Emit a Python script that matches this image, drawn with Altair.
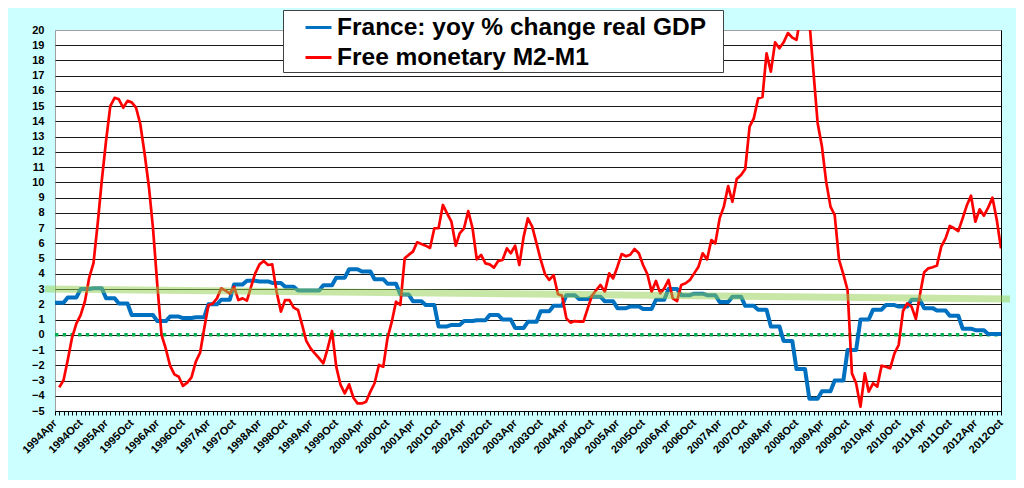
import altair as alt
import pandas as pd

# ---------------- data ----------------
month_dates = [d.strftime("%Y-%m-%d") for d in pd.date_range("1994-04-01", "2012-10-01", freq="MS")]

series_names = ["France: yoy % change real GDP", "Free monetary M2-M1"]
series_colors = ["#0070c0", "#ff0000"]

# quarterly real GDP yoy % (1994Q2 .. 2012Q4), each quarter spans 3 months on the chart
gdp_yoy_quarterly = [
    2.1, 2.45, 3.0, 3.05, 2.4, 2.05, 1.3, 1.3, 0.9, 1.2,
    1.1, 1.15, 2.0, 2.3, 3.3, 3.55, 3.5, 3.4, 3.15, 2.9,
    2.9, 3.25, 3.75, 4.3, 4.15, 3.65, 3.35, 2.65, 2.2, 1.95,
    0.55, 0.65, 0.9, 0.95, 1.3, 1.0, 0.45, 0.85, 1.55, 1.9,
    2.6, 2.35, 2.5, 2.2, 1.75, 1.85, 1.7, 2.3, 3.0, 2.6,
    2.7, 2.6, 2.15, 2.5, 1.9, 1.65, 0.55, -0.4, -2.25, -4.2,
    -3.7, -3.0, -1.0, 1.0, 1.65, 1.95, 1.85, 2.3, 1.75, 1.6,
    1.25, 0.4, 0.3, 0.05, 0.05,
]

# monthly free monetary M2-M1, from 1994 May to 2012 Oct
free_m2_m1 = [
    -3.45, -2.98, -1.66, -0.18, 0.75, 1.29, 2.2, 3.73, 4.7, 7.4,
    10.1, 12.75, 15.0, 15.55, 15.45, 14.9, 15.35, 15.25, 14.9, 13.85,
    11.9, 9.7, 7.0, 3.26, 0.0, -0.93, -2.02, -2.6, -2.75, -3.35,
    -3.14, -2.79, -1.76, -1.16, 0.36, 1.96, 2.04, 2.39, 3.05, 2.9,
    2.7, 3.15, 2.28, 2.39, 2.24, 3.2, 4.03, 4.62, 4.84, 4.58,
    4.62, 2.83, 1.52, 2.28, 2.28, 1.78, 1.63, 0.6, -0.4, -0.89,
    -1.22, -1.54, -1.87, -0.89, 0.25, -2.09, -3.29, -3.84, -3.25, -4.13,
    -4.5, -4.5, -4.39, -3.73, -3.18, -1.98, -2.09, -0.23, 0.86, 2.17,
    1.96, 5.02, 5.24, 5.46, 6.07, 5.96, 5.85, 5.7, 6.99, 6.99,
    8.52, 7.97, 7.42, 5.85, 6.66, 6.99, 8.12, 6.99, 4.95, 5.24,
    4.69, 4.62, 4.41, 4.84, 4.91, 5.67, 5.35, 5.85, 4.58, 6.44,
    7.64, 7.1, 6.0, 4.91, 3.97, 3.6, 3.92, 2.66, 2.57, 1.08,
    0.8, 0.9, 0.86, 0.86, 1.74, 2.57, 2.94, 3.27, 2.83, 4.03,
    3.7, 4.47, 5.3, 5.15, 5.25, 5.63, 5.35, 4.58, 3.97, 2.83,
    3.53, 2.72, 3.05, 3.6, 2.39, 2.22, 3.27, 3.38, 3.6, 4.03,
    4.47, 5.35, 4.95, 6.22, 6.0, 7.64, 8.41, 9.76, 8.73, 10.22,
    10.49, 10.88, 13.66, 14.2, 15.5, 15.6, 18.47, 17.27, 19.19, 18.8,
    19.19, 19.8, 19.5, 19.35, 21.0, 21.8, 20.6, 17.05, 13.9, 12.35,
    10.05, 8.41, 7.86, 4.91, 3.97, 2.94, -2.53, -3.18, -4.72, -2.53,
    -3.73, -3.18, -3.4, -2.03, -2.09, -2.2, -1.22, -0.67, 1.56, 2.06,
    1.85, 1.04, 2.6, 4.1, 4.36, 4.43, 4.54, 5.78, 6.33, 7.14,
    6.99, 6.81, 7.64, 8.52, 9.13, 7.42, 8.23, 7.82, 8.34, 9.0,
    7.53, 5.67,
]

trend_dates = ["1994-01-21", "2012-12-04"]
trend_values = [3.0, 2.35]
zero_dates = ["1994-04-01", "2012-10-01"]
zero_values = [0, 0]
y_ticks = list(range(-5, 21))

rows = []
for i, d in enumerate(month_dates):
    rows.append({"date": d, "series": series_names[0], "value": gdp_yoy_quarterly[i // 3]})
for d, v in zip(month_dates[1:], free_m2_m1):
    rows.append({"date": d, "series": series_names[1], "value": v})
df = pd.DataFrame(rows)
trend_df = pd.DataFrame({"date": trend_dates, "value": trend_values})
zero_df = pd.DataFrame({"date": zero_dates, "value": zero_values})


def utc_ms(s):
    return int(pd.Timestamp(s, tz="UTC").value // 10**6)


FONT = "Liberation Sans"

x_scale = alt.Scale(type="utc", domain=[utc_ms(month_dates[0]), utc_ms(month_dates[-1])])
x_axis = alt.Axis(
    values=[utc_ms(d) for d in month_dates],
    labelExpr="(utcmonth(datum.value) == 3 || utcmonth(datum.value) == 9) ? utcFormat(datum.value, '%Y%b') : ''",
    labelAngle=-45, labelAlign="right", labelBaseline="middle", labelPadding=6,
    labelOverlap=False, labelFlush=False, tickSize=4, tickColor="black", tickWidth=1,
    domainColor="black", domainWidth=1, grid=False,
    labelFont=FONT, labelFontSize=11, labelFontWeight="bold", labelColor="black", title=None,
)
x_enc = alt.X("date:T", scale=x_scale, axis=x_axis)

y_scale = alt.Scale(domain=[-5, 20], nice=False, zero=False)
y_axis_left = alt.Axis(
    values=y_ticks, grid=True,
    gridColor={"condition": {"test": "datum.value == 20", "value": "#a0a0a0"}, "value": "#1a1a1a"},
    gridWidth=1, domain=False, ticks=False, labelPadding=11,
    labelFont=FONT, labelFontSize=11, labelFontWeight="bold", labelColor="black", title=None,
)
y_axis_right = alt.Axis(orient="right", values=y_ticks, grid=False, labels=False, ticks=False,
                        domain=True, domainColor="black", domainWidth=1, title=None)

color_scale = alt.Scale(domain=series_names, range=series_colors)
legend = alt.Legend(
    title="\u00a0", titleOrient="right", titlePadding=14, titleFontSize=6,
    orient="none", legendX=228, legendY=-20,
    fillColor="white", strokeColor="#404040", padding=3,
    symbolType="stroke", symbolSize=676, symbolStrokeWidth=3, symbolOffset=18,
    labelOffset=4, rowPadding=4, labelLimit=600,
    labelFont=FONT, labelFontSize=24.5, labelFontWeight="bold", labelColor="black",
)

zero = alt.Chart(zero_df).mark_line(
    color="#00b050", strokeWidth=3.5, strokeDash=[3.4, 4.3], strokeCap="butt"
).encode(x=x_enc, y=alt.Y("value:Q", scale=y_scale, axis=y_axis_right))

blue = alt.Chart(df).transform_filter(alt.datum.series == series_names[0]).mark_line(
    strokeWidth=4, clip=True, strokeJoin="round"
).encode(
    x=x_enc,
    y=alt.Y("value:Q", scale=y_scale, axis=y_axis_left),
    color=alt.Color("series:N", scale=color_scale, legend=legend),
)

red = alt.Chart(df).transform_filter(alt.datum.series == series_names[1]).mark_line(
    strokeWidth=2.7, clip=True, strokeJoin="round"
).encode(
    x=x_enc,
    y=alt.Y("value:Q", scale=y_scale, axis=None),
    color=alt.Color("series:N", scale=color_scale, legend=legend),
)

trend = alt.Chart(trend_df).mark_line(
    color="#92d050", opacity=0.5, strokeWidth=7, clip=False, strokeCap="butt"
).encode(x=x_enc, y=alt.Y("value:Q", scale=y_scale, axis=None))

chart = alt.layer(zero, blue, red, trend).resolve_axis(y="independent").properties(
    width=946, height=381,
    padding={"left": 47, "top": 22, "right": 15, "bottom": 69},
    autosize=alt.AutoSizeParams(type="none"),
    background="#ccffff",
).configure_view(stroke="#a0a0a0", fill="white")

chart.save("out.html", embed_options={"renderer": "svg", "actions": False})
